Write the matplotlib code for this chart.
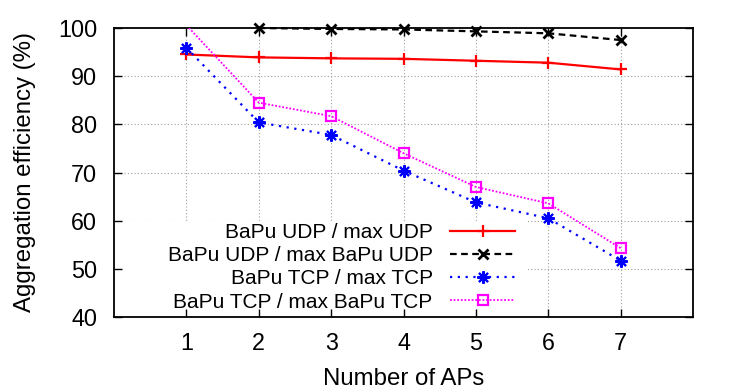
import matplotlib
matplotlib.use("Agg")
import matplotlib.pyplot as plt
from matplotlib.patches import Rectangle

plt.rcParams['font.family'] = ['Liberation Sans', 'DejaVu Sans']

# data
aps = [1, 2, 3, 4, 5, 6, 7]
udp_max_udp = [94.5, 93.9, 93.7, 93.6, 93.2, 92.8, 91.4]
udp_max_bapu_aps = [2, 3, 4, 5, 6, 7]
udp_max_bapu = [100.0, 99.8, 99.7, 99.3, 98.9, 97.5]
tcp_max_tcp = [95.9, 80.4, 77.8, 70.4, 63.8, 60.5, 51.7]
tcp_max_bapu = [100.6, 84.5, 81.7, 74.0, 67.0, 63.6, 54.3]

labels = ["BaPu UDP / max UDP", "BaPu UDP / max BaPu UDP",
          "BaPu TCP / max TCP", "BaPu TCP / max BaPu TCP"]
yticks = [40, 50, 60, 70, 80, 90, 100]

tick_fs = 16.8
label_fs = 17.3
key_fs = 15

# line styles, shared by the plot and the key
styles = [
    dict(color='#ff0000', lw=1.6, marker='+', ms=8, mew=1.6),
    dict(color='black', lw=1.6, ls=(0, (3, 2)), marker='x', ms=6.5, mew=2),
    dict(color='#0000ff', lw=1.6, ls=(0, (1, 2.5)), marker=(8, 2, 0),
         ms=9, mew=1.5),
    dict(color='#ff00ff', lw=1.3, ls=(0, (1, 1)), marker='s', ms=7,
         mew=1.6, mfc='none'),
]

fig = plt.figure(figsize=(7.47, 3.92), dpi=100)
ax = fig.add_axes([114 / 747, 1 - 317 / 392, 579 / 747, 289 / 392])

ax.set_xlim(0, 8)
ax.set_ylim(40, 100)

# grid drawn by hand so the key box can sit above it but below the ticks
for x in aps:
    ax.axvline(x, color='#a0a0a0', lw=0.8, ls=(0, (1, 2)), zorder=1)
for y in yticks[1:-1]:
    ax.axhline(y, color='#a0a0a0', lw=0.8, ls=(0, (1, 2)), zorder=1)

# opaque key area
ax.add_patch(Rectangle((0, 0), 0.715, 0.332, transform=ax.transAxes,
                       facecolor='white', edgecolor='none', zorder=1.5))

ax.plot(aps, udp_max_udp, zorder=3, clip_on=False, **styles[0])
ax.plot(udp_max_bapu_aps, udp_max_bapu, zorder=3, clip_on=False, **styles[1])
ax.plot(aps, tcp_max_tcp, zorder=3, clip_on=False, **styles[2])
# first point is above 100 -> clipped, no marker
ax.plot(aps, tcp_max_bapu, zorder=3, markevery=slice(1, None), **styles[3])

leg_handles = [plt.Line2D([], [], **st) for st in styles]

leg = ax.legend(leg_handles, labels, loc='upper right',
                bbox_to_anchor=(515 / 747, 1 - 223 / 392),
                bbox_transform=fig.transFigure, frameon=False,
                markerfirst=False, numpoints=1, fontsize=key_fs,
                handlelength=3.1, handletextpad=0.85, labelspacing=0.2,
                borderpad=0, borderaxespad=0)
leg.set_zorder(2)

ax.set_xticks(aps)
ax.set_yticks(yticks)
ax.tick_params(direction='in', length=6, width=1, top=True, right=True,
               labelsize=tick_fs, pad=11)
ax.tick_params(axis='y', pad=12)
for s in ax.spines.values():
    s.set_linewidth(1.3)
    s.set_zorder(2.5)

ax.set_xlabel("Number of APs", fontsize=label_fs, labelpad=9)
ax.set_ylabel("Aggregation efficiency (%)", fontsize=label_fs, labelpad=16)

fig.savefig("out.png", dpi=100)
